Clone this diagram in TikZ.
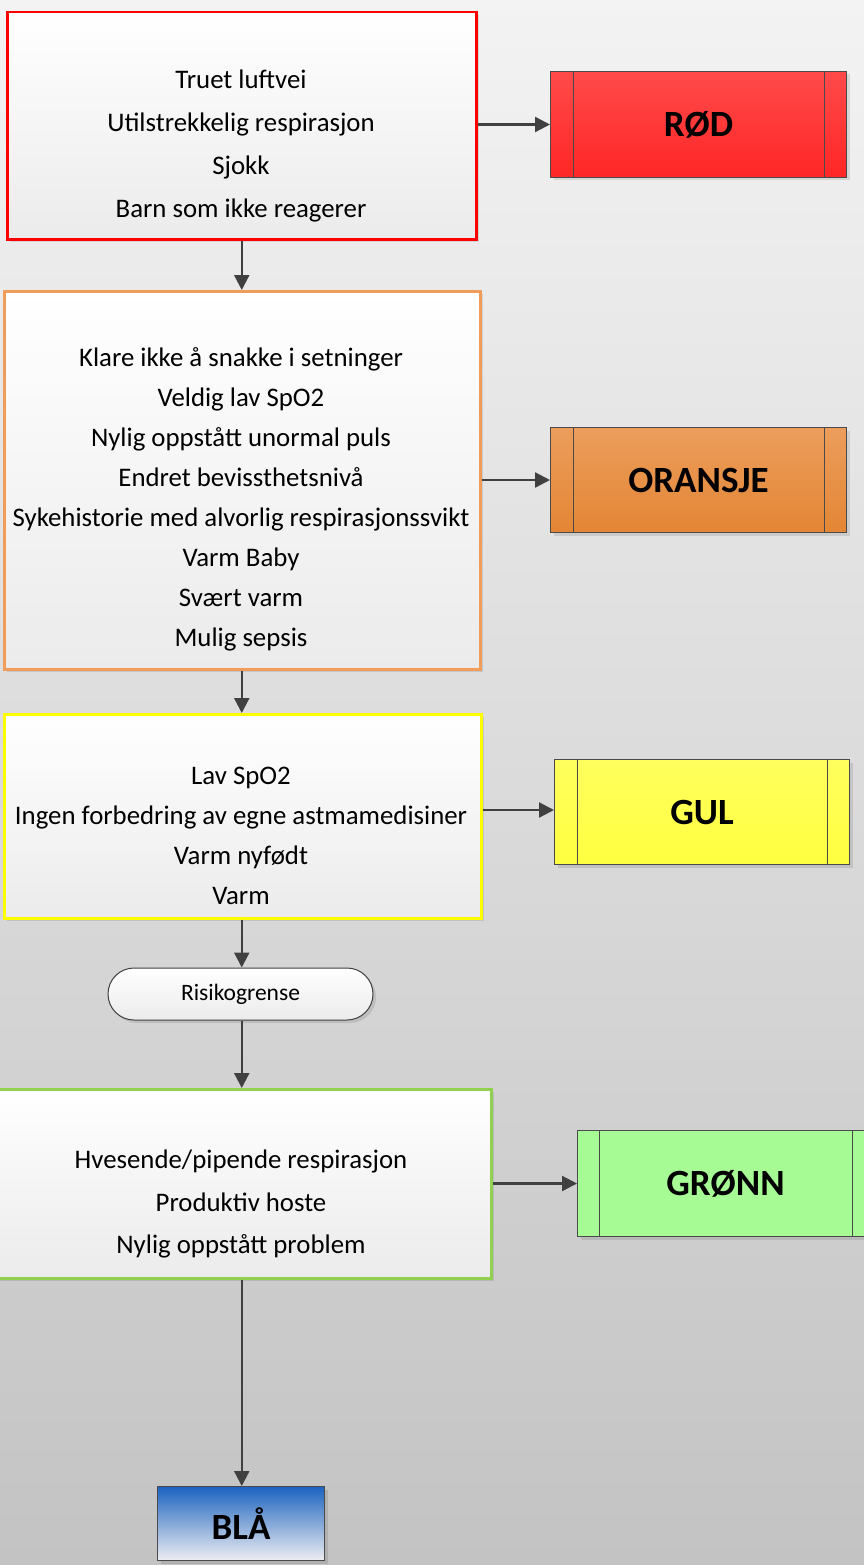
\documentclass[tikz,border=0pt]{standalone}
\usepackage{fontspec}
\setmainfont{Carlito}
\usetikzlibrary{arrows.meta,shapes.misc,shadows}

\definecolor{bgtop}{HTML}{F3F3F3}
\definecolor{bgbot}{HTML}{C3C3C3}
\definecolor{boxtop}{HTML}{FFFFFF}
\definecolor{boxbot}{HTML}{EBEBEB}
\definecolor{edgered}{HTML}{FF0000}
\definecolor{edgeorange}{HTML}{F09C5A}
\definecolor{edgeyellow}{HTML}{FFFF00}
\definecolor{edgegreen}{HTML}{92D050}
\definecolor{arrowgray}{HTML}{404040}
\definecolor{tagedge}{HTML}{4A4A4A}
\definecolor{redtop}{HTML}{FF4A4A}
\definecolor{redbot}{HTML}{FF2626}
\definecolor{orangetop}{HTML}{EC9D5C}
\definecolor{orangebot}{HTML}{E38635}
\definecolor{yellowtop}{HTML}{FFFF5E}
\definecolor{yellowbot}{HTML}{FFFF40}
\definecolor{greenfill}{HTML}{A6FB94}
\definecolor{bluetop}{HTML}{1C63C0}
\definecolor{bluemid}{HTML}{A9BBDF}
\definecolor{bluebot}{HTML}{EEEEF2}

\tikzset{
  boxshadow/.style={drop shadow={shadow xshift=3pt, shadow yshift=-3pt, fill=black, opacity=0.10}},
  critbox/.style={rectangle, anchor=north west, line width=2.5pt, inner sep=0pt,
    top color=boxtop, bottom color=boxbot, boxshadow},
  crittext/.style={align=center, inner sep=0pt},
  tagbox/.style={rectangle, anchor=north west, draw=tagedge, line width=1pt,
    inner sep=0pt, font=\bfseries\fontsize{37}{40}\selectfont, boxshadow},
  arr/.style={draw=arrowgray, line width=2.3pt, -{Triangle[length=15pt,width=15pt]}},
  terminal/.style={rounded rectangle, draw=arrowgray, line width=1pt,
    top color=boxtop, bottom color=boxbot, inner sep=0pt,
    font=\fontsize{23.5}{26}\selectfont, boxshadow},
}

% vertical separator lines inside a category tag
\newcommand{\tagbars}[2]{%
  \draw[tagedge, line width=1pt] ([xshift=#2]#1.north west) -- ([xshift=#2]#1.south west);
  \draw[tagedge, line width=1pt] ([xshift=-#2]#1.north east) -- ([xshift=-#2]#1.south east);
}

\begin{document}
\begin{tikzpicture}[x=1pt,y=-1pt]
  \useasboundingbox (0,0) rectangle (864,1565);
  \clip (0,0) rectangle (864,1565);
  \shade[top color=bgtop, bottom color=bgbot] (0,0) rectangle (864,1565);

  % criteria boxes
  \node[critbox, draw=edgered, minimum width=469pt, minimum height=227pt] (red) at (6,11) {};
  \node[crittext, font=\fontsize{26.8}{43}\selectfont] (redtxt) at (241,146)
    {Truet luftvei\\Utilstrekkelig respirasjon\\Sjokk\\Barn som ikke reagerer};

  \node[critbox, draw=edgeorange, minimum width=476pt, minimum height=378pt] (orange) at (3,290) {};
  \node[crittext, font=\fontsize{26.8}{40}\selectfont] (orangetxt) at (241,499)
    {Klare ikke å snakke i setninger\\Veldig lav SpO2\\Nylig oppstått unormal puls\\Endret bevissthetsnivå\\Sykehistorie med alvorlig respirasjonssvikt\\Varm Baby\\Svært varm\\Mulig sepsis};

  \node[critbox, draw=edgeyellow, minimum width=477pt, minimum height=204pt] (yellow) at (3,713) {};
  \node[crittext, font=\fontsize{26.8}{40}\selectfont] (yellowtxt) at (241,836)
    {Lav SpO2\\Ingen forbedring av egne astmamedisiner\\Varm nyfødt\\Varm};

  \node[terminal, minimum width=265pt, minimum height=52pt] (risk) at (240.5,994) {Risikogrense};

  \node[critbox, draw=edgegreen, minimum width=498pt, minimum height=189pt] (green) at (-8,1088) {};
  \node[crittext, font=\fontsize{26.8}{42.5}\selectfont] (greentxt) at (241,1204)
    {Hvesende/pipende respirasjon\\Produktiv hoste\\Nylig oppstått problem};

  % category tags
  \node[tagbox, top color=redtop, bottom color=redbot, minimum width=296pt, minimum height=106pt] (rod) at (550,71) {RØD};
  \tagbars{rod}{23pt}
  \node[tagbox, top color=orangetop, bottom color=orangebot, minimum width=296pt, minimum height=105pt] (oransje) at (550,427) {ORANSJE};
  \tagbars{oransje}{23pt}
  \node[tagbox, top color=yellowtop, bottom color=yellowbot, minimum width=295pt, minimum height=105pt] (gul) at (554,759) {GUL};
  \tagbars{gul}{23pt}
  \node[tagbox, fill=greenfill, minimum width=296pt, minimum height=106pt] (gronn) at (577,1130) {GRØNN};
  \tagbars{gronn}{22pt}
  \node[tagbox, top color=bluetop, middle color=bluemid, bottom color=bluebot, minimum width=167pt, minimum height=74pt] (bla) at (157,1486) {BLÅ};

  % connectors
  \draw[arr] (red.east |- rod.west) -- (rod.west);
  \draw[arr] (orange.east |- oransje.west) -- (oransje.west);
  \draw[arr] (yellow.east |- 0,810) -- (gul.west |- 0,810);
  \draw[arr] (green.east |- gronn.west) -- (gronn.west);
  \draw[arr] (red.south) -- (orange.north -| red.south);
  \draw[arr] (orange.south -| red.south) -- (yellow.north -| red.south);
  \draw[arr] (yellow.south -| red.south) -- (risk.north -| red.south);
  \draw[arr] (risk.south -| red.south) -- (green.north -| red.south);
  \draw[arr] (green.south -| red.south) -- (bla.north -| red.south);
\end{tikzpicture}
\end{document}
